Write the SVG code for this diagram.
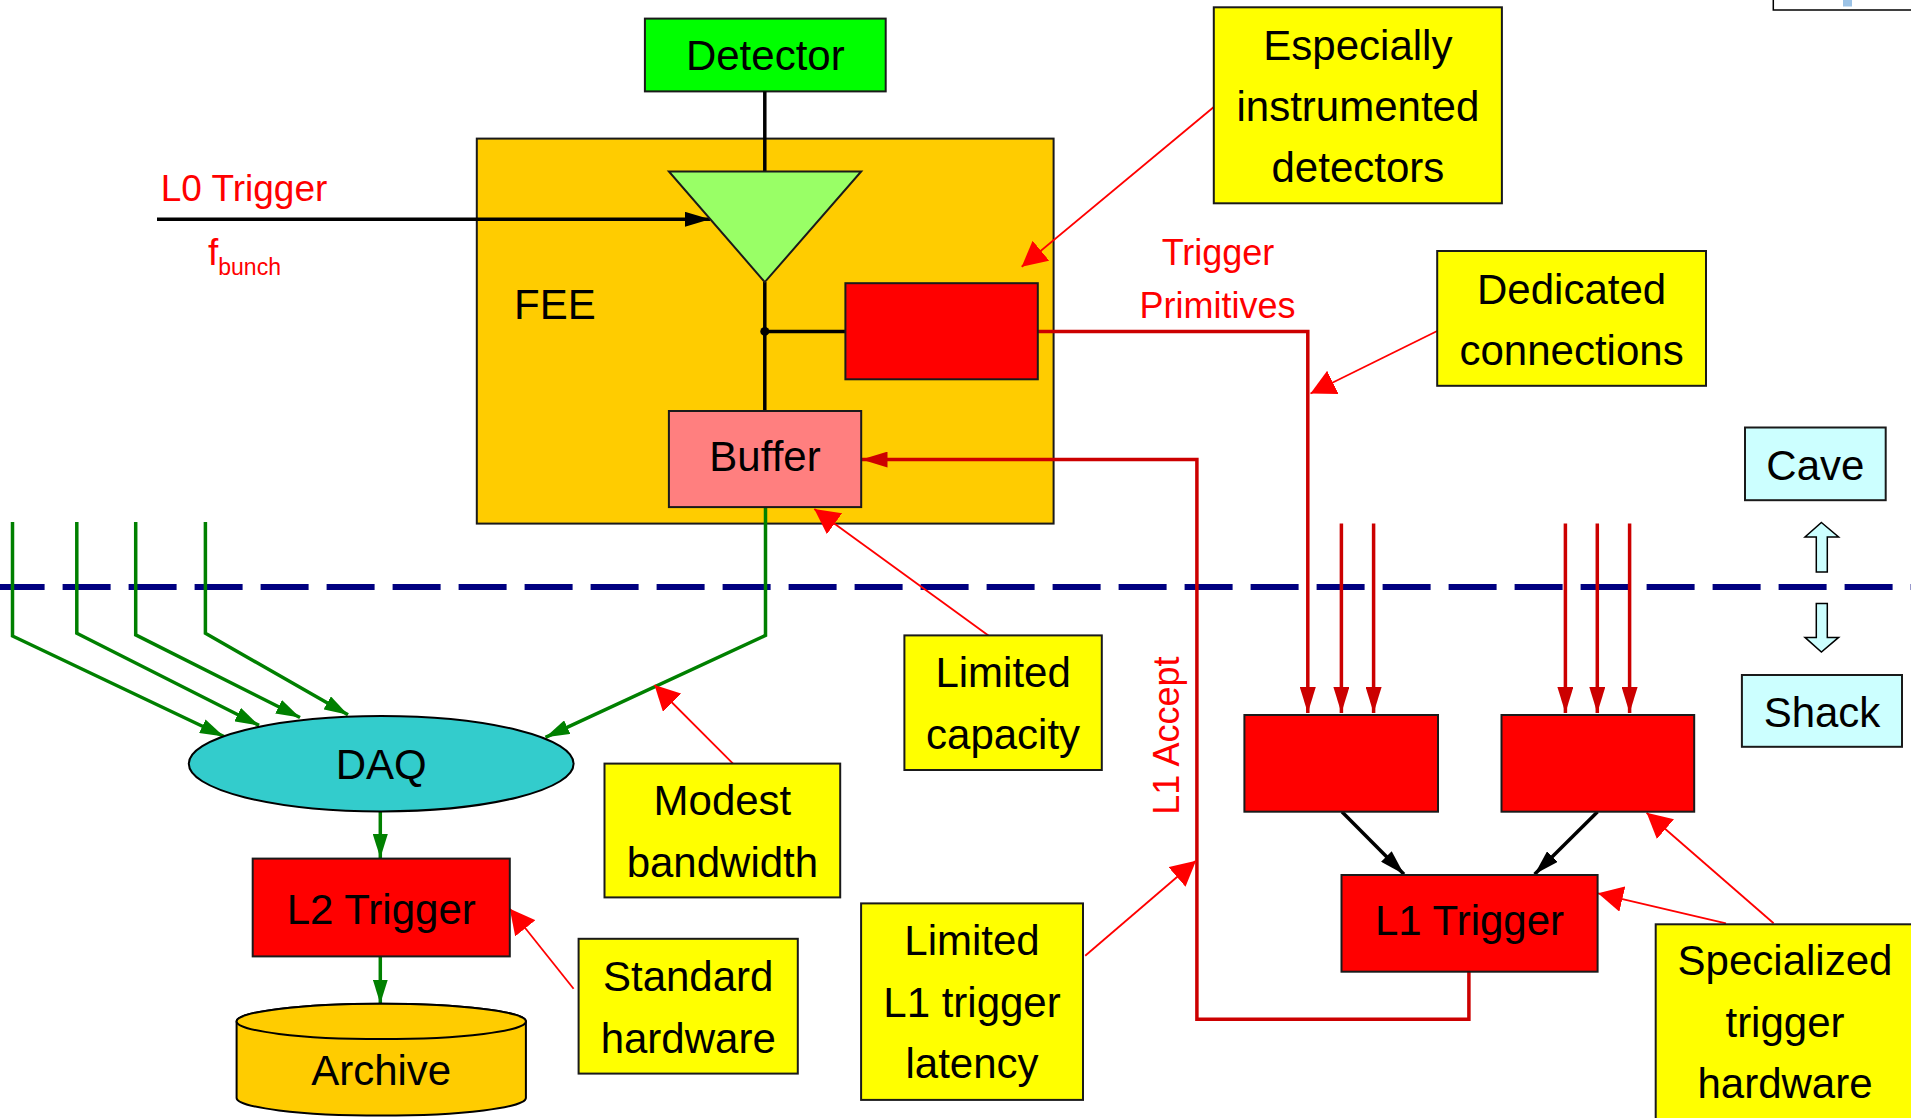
<svg xmlns="http://www.w3.org/2000/svg" width="1911" height="1118" viewBox="0 0 1911 1118">
<style>
text{font-family:"Liberation Sans",Arial,sans-serif;font-size:42px;fill:#000}
.c{text-anchor:middle}
.red{fill:#FF0000}
.box{stroke:#1a1a1a;stroke-width:2}
.note{fill:#FFFF00;stroke:#1a1a1a;stroke-width:2}
.callout{fill:none;stroke:#FF0000;stroke-width:1.8;marker-end:url(#mCall)}
.thick{fill:none;stroke:#CC0000;stroke-width:3.5}
.green{fill:none;stroke:#008000;stroke-width:3.5;marker-end:url(#mGreen)}
.blk{fill:none;stroke:#000;stroke-width:3.5}
</style>
<defs>
<marker id="mCall" markerUnits="userSpaceOnUse" markerWidth="26" markerHeight="26" refX="25" refY="13" orient="auto"><path d="M0,0 L25,13 L0,26 z" fill="#FF0000"/></marker>
<marker id="mRed" markerUnits="userSpaceOnUse" markerWidth="27" markerHeight="16" refX="26" refY="8" orient="auto"><path d="M0,0 L26,8 L0,16 z" fill="#CC0000"/></marker>
<marker id="mGreen" markerUnits="userSpaceOnUse" markerWidth="25" markerHeight="15" refX="24" refY="7.5" orient="auto"><path d="M0,0 L24,7.5 L0,15 z" fill="#008000"/></marker>
<marker id="mBlack" markerUnits="userSpaceOnUse" markerWidth="26" markerHeight="15" refX="25" refY="7.5" orient="auto"><path d="M0,0 L25,7.5 L0,15 z" fill="#000"/></marker>
</defs>
<rect width="1911" height="1118" fill="#FFFFFF"/>

<!-- cut-off element at top right -->
<g id="corner">
<rect x="1773.3" y="-20" width="160" height="30" fill="#FFFFFF" stroke="#000" stroke-width="1.5"/>
<rect x="1843" y="-2" width="9" height="8.5" fill="#9CC3E6"/>
</g>

<!-- cave / shack divider -->
<line x1="0" y1="587" x2="1911" y2="587" stroke="#000080" stroke-width="6" stroke-dasharray="48 18" stroke-dashoffset="3.4"/>

<g id="fee">
<rect class="box" x="476.8" y="138.6" width="576.8" height="385" fill="#FFCC00"/>
<text x="514" y="319">FEE</text>
</g>

<g id="detector">
<rect class="box" x="644.9" y="18.6" width="240.8" height="72.8" fill="#00FF00"/>
<text class="c" x="765.3" y="70.4">Detector</text>
</g>

<g id="connectors">
<!-- black -->
<line class="blk" x1="764.8" y1="91.4" x2="764.8" y2="171.4"/>
<line class="blk" x1="764.8" y1="282" x2="764.8" y2="411"/>
<line class="blk" x1="764.8" y1="331.4" x2="845.4" y2="331.4"/>
<circle cx="764.8" cy="331.4" r="4.5" fill="#000"/>
<line x1="157" y1="219.3" x2="710" y2="219.3" stroke="#000" stroke-width="3.5" marker-end="url(#mBlack)"/>
<line x1="1341.9" y1="811.7" x2="1404" y2="874.3" stroke="#000" stroke-width="3.5" marker-end="url(#mBlack)"/>
<line x1="1597.6" y1="811.7" x2="1534.6" y2="874.3" stroke="#000" stroke-width="3.5" marker-end="url(#mBlack)"/>

<!-- thick red -->
<polyline class="thick" points="1037.8,331.4 1307.8,331.4 1307.8,713" marker-end="url(#mRed)"/>
<line class="thick" x1="1341.4" y1="523.5" x2="1341.4" y2="713" marker-end="url(#mRed)"/>
<line class="thick" x1="1373.6" y1="523.5" x2="1373.6" y2="713" marker-end="url(#mRed)"/>
<line class="thick" x1="1565.4" y1="523.5" x2="1565.4" y2="713" marker-end="url(#mRed)"/>
<line class="thick" x1="1597.3" y1="523.5" x2="1597.3" y2="713" marker-end="url(#mRed)"/>
<line class="thick" x1="1629.6" y1="523.5" x2="1629.6" y2="713" marker-end="url(#mRed)"/>
<polyline class="thick" points="1468.9,971.7 1468.9,1019.3 1196.9,1019.3 1196.9,459.6 861.5,459.6" marker-end="url(#mRed)"/>

<!-- green -->
<polyline class="green" points="12.5,522 12.5,636 224,736.5"/>
<polyline class="green" points="76.8,522 76.8,633.2 259,725.4"/>
<polyline class="green" points="135.7,522 135.7,634.8 300,717.5"/>
<polyline class="green" points="205.4,522 205.4,633.2 348,714.8"/>
<polyline class="green" points="765.5,507 765.5,635.4 545.5,737.3"/>
<line class="green" x1="380.3" y1="811.3" x2="380.3" y2="858"/>
<line class="green" x1="380.3" y1="956.4" x2="380.3" y2="1003.7"/>

<!-- callouts -->
<line class="callout" x1="1213.8" y1="107" x2="1021.7" y2="266.7"/>
<line class="callout" x1="1437.2" y1="331" x2="1310.5" y2="393.5"/>
<line class="callout" x1="988.4" y1="635.4" x2="814.3" y2="509"/>
<line class="callout" x1="733" y1="763.6" x2="654.5" y2="685"/>
<line class="callout" x1="573.6" y1="988.7" x2="509.8" y2="908.7"/>
<line class="callout" x1="1085.2" y1="955.8" x2="1196" y2="860.7"/>
<line class="callout" x1="1726" y1="923.3" x2="1598" y2="893.3"/>
<line class="callout" x1="1773.6" y1="923.3" x2="1646.6" y2="812.7"/>
</g>

<g id="amplifier">
<polygon points="668.9,171.4 861.2,171.4 764.8,282.1" fill="#99FF66" stroke="#1a1a1a" stroke-width="2"/>
</g>

<g id="trigger-prim-box">
<rect class="box" x="845.4" y="283.2" width="192.4" height="96.1" fill="#FF0000"/>
</g>

<g id="buffer">
<rect class="box" x="668.9" y="411" width="192.3" height="96.1" fill="#FF7F7F"/>
<text class="c" x="765" y="471.4">Buffer</text>
</g>

<g id="labels">
<text class="red" x="160.7" y="200.7" style="font-size:37px">L0 Trigger</text>
<text class="red" x="208" y="265" style="font-size:37px">f<tspan dy="10" style="font-size:23px">bunch</tspan></text>
<text class="c red" x="1218" y="265" style="font-size:36px">Trigger</text>
<text class="c red" x="1217.5" y="318.3" style="font-size:36px">Primitives</text>
<text class="c red" x="0" y="0" style="font-size:36px" transform="translate(1179,735.6) rotate(-90)">L1 Accept</text>
</g>

<g id="especially">
<rect class="note" x="1213.8" y="7.3" width="288.1" height="196"/>
<text class="c" x="1357.9" y="60">Especially</text>
<text class="c" x="1357.9" y="120.5">instrumented</text>
<text class="c" x="1357.9" y="182">detectors</text>
</g>

<g id="dedicated">
<rect class="note" x="1437.2" y="251" width="268.8" height="134.8"/>
<text class="c" x="1571.6" y="304.4">Dedicated</text>
<text class="c" x="1571.6" y="364.5">connections</text>
</g>

<g id="cave">
<rect class="box" x="1745" y="427.5" width="140.7" height="72.7" fill="#CCFFFF"/>
<text class="c" x="1815.4" y="479.9">Cave</text>
<polygon points="1821.4,522.5 1838.6,537 1827.3,537 1827.3,572 1816.3,572 1816.3,537 1805,537" fill="#CCFFFF" stroke="#000" stroke-width="1.5"/>
</g>

<g id="shack">
<rect class="box" x="1741.9" y="675" width="160.1" height="71.8" fill="#CCFFFF"/>
<text class="c" x="1822" y="727">Shack</text>
<polygon points="1816.3,603.5 1827.3,603.5 1827.3,637.4 1838.6,637.4 1821.4,652 1805,637.4 1816.3,637.4" fill="#CCFFFF" stroke="#000" stroke-width="1.5"/>
</g>

<g id="limited-capacity">
<rect class="note" x="904.4" y="635.4" width="197.4" height="134.6"/>
<text class="c" x="1003.1" y="687">Limited</text>
<text class="c" x="1003.1" y="748.6">capacity</text>
</g>

<g id="modest">
<rect class="note" x="604.5" y="763.6" width="235.7" height="133.8"/>
<text class="c" x="722.4" y="815.2">Modest</text>
<text class="c" x="722.4" y="876.7">bandwidth</text>
</g>

<g id="standard">
<rect class="note" x="578.6" y="938.8" width="219.2" height="134.8"/>
<text class="c" x="688.2" y="991.3">Standard</text>
<text class="c" x="688.2" y="1052.9">hardware</text>
</g>

<g id="latency">
<rect class="note" x="861.1" y="903.4" width="221.9" height="196.5"/>
<text class="c" x="972" y="955">Limited</text>
<text class="c" x="972" y="1016.6">L1 trigger</text>
<text class="c" x="972" y="1077.8">latency</text>
</g>

<g id="specialized">
<rect class="note" x="1655.7" y="924.3" width="258" height="210"/>
<text class="c" x="1785" y="975">Specialized</text>
<text class="c" x="1785" y="1036.7">trigger</text>
<text class="c" x="1785" y="1098.3">hardware</text>
</g>

<g id="daq">
<ellipse cx="381.2" cy="763.7" rx="192.4" ry="47.7" fill="#33CCCC" stroke="#000" stroke-width="2"/>
<text class="c" x="381.2" y="779">DAQ</text>
</g>

<g id="l2">
<rect class="box" x="252.7" y="858.6" width="257.1" height="97.8" fill="#FF0000"/>
<text class="c" x="381.2" y="923.7">L2 Trigger</text>
</g>

<g id="archive">
<path d="M236.6,1021.4 A144.65,17.7 0 0 1 525.9,1021.4 L525.9,1097.9 A144.65,17.7 0 0 1 236.6,1097.9 Z" fill="#FFCC00" stroke="#000" stroke-width="2"/>
<ellipse cx="381.25" cy="1021.4" rx="144.65" ry="17.7" fill="#FFCC00" stroke="#000" stroke-width="2"/>
<text class="c" x="381.2" y="1085.2">Archive</text>
</g>

<g id="l1-box-a">
<rect class="box" x="1244.4" y="715" width="193.6" height="96.7" fill="#FF0000"/>
</g>
<g id="l1-box-b">
<rect class="box" x="1501.5" y="715" width="192.7" height="96.7" fill="#FF0000"/>
</g>

<g id="l1">
<rect class="box" x="1341.5" y="875" width="256.1" height="96.7" fill="#FF0000"/>
<text class="c" x="1469.5" y="935">L1 Trigger</text>
</g>
</svg>
